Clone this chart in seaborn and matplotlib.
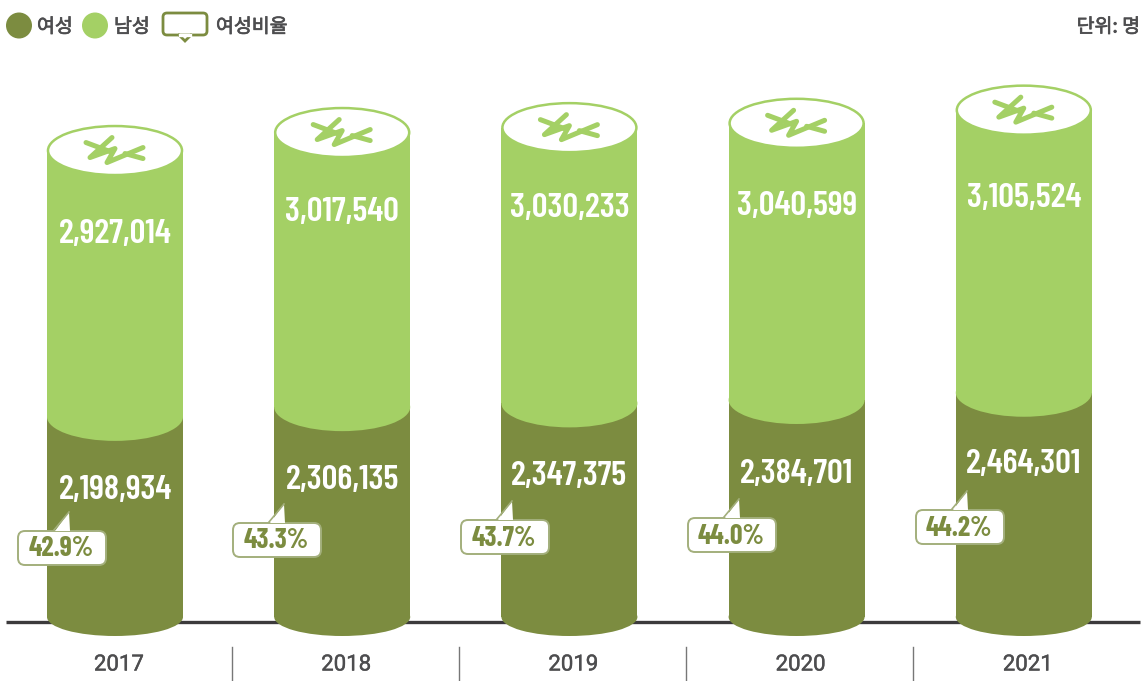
import pandas as pd
import seaborn as sns
import matplotlib
matplotlib.use('Agg')
from matplotlib import pyplot as plt
from matplotlib import patheffects as pe
from matplotlib.patches import Ellipse, FancyBboxPatch, Polygon, Circle
from matplotlib.transforms import Affine2D

years = ['2017', '2018', '2019', '2020', '2021']
female = [2198934, 2306135, 2347375, 2384701, 2464301]
male = [2927014, 3017540, 3030233, 3040599, 3105524]
ratio = ['42.9%', '43.3%', '43.7%', '44.0%', '44.2%']

# 라벨 위치 (px)
male_label_y = [234, 212, 208, 207, 199]
female_label_y = [490, 480, 477, 475, 464]
box_left = [18, 233, 461, 688, 916]
box_mid_y = [548, 540, 537, 535, 527]

DARK = '#7c8c40'
LIGHT = '#a4d065'
GREY = '#4d4d4f'
KR = ['Noto Sans CJK KR', 'DejaVu Sans']
NARROW = ['Barlow Condensed', 'Roboto Condensed', 'DejaVu Sans']

W, H = 1148, 681
X0, STEP = 115, 227.2     # 첫 막대 중심, 간격 (px)
Y0, SCALE = 617, 9.1e-5   # 0 위치 (px), 명당 px
BAR_W = 136

df = pd.DataFrame({'year': years, 'female': female, 'male': male})
df['total'] = df['female'] + df['male']

fig = plt.figure(figsize=(W / 100, H / 100), dpi=100)
ax = fig.add_axes([0, 0, 1, 1])

# px 좌표 (위에서 아래로)
px = Affine2D().scale(1, -1).translate(0, H)

width = BAR_W / STEP
thick = [pe.withStroke(linewidth=0.5, foreground=GREY)]

sns.barplot(data=df, x='year', y='total', color=LIGHT, saturation=1, width=width, ax=ax, zorder=1, lw=0)
sns.barplot(data=df, x='year', y='female', color=DARK, saturation=1, width=width, ax=ax, zorder=2, lw=0)
ax.set_xlim(-X0 / STEP, (W - X0) / STEP)
ax.set_ylim((Y0 - H) / SCALE, Y0 / SCALE)
ax.axis('off')

ax.plot([6, 1140], [622, 622], color='#3c3a3c', lw=2.4, transform=px, zorder=0, solid_capstyle='butt')

# 뚜껑 로고, 뚜껑 중심에서의 px
mark = [[(-29, -8), (-5, 1)],
        [(-3, -13), (-25, 7), (0, -2), (-8, 12), (28, -3)],
        [(10, 3), (28, 8)]]

for i, y in enumerate(years):
    f = df['female'][i]
    t = df['total'][i]
    cx = X0 + i * STEP
    ty = Y0 - t * SCALE
    ax.add_patch(Ellipse((i, 0), width, 38 / SCALE, color=DARK, lw=0, zorder=2))
    ax.add_patch(Ellipse((i, f), width, 48 / SCALE, color=LIGHT, lw=0, zorder=3))
    ax.add_patch(Ellipse((i, t), width - 2 / STEP, 49 / SCALE, facecolor='white', edgecolor=LIGHT, lw=1.8, zorder=4))

    for stroke in mark:
        ax.plot([cx + p[0] for p in stroke], [ty + p[1] for p in stroke], color=LIGHT, lw=3.6, transform=px,
                zorder=5, solid_capstyle='round', solid_joinstyle='round')

    ax.text(cx, male_label_y[i], f'{male[i]:,}', transform=px, color='white', fontsize=25, fontweight='semibold',
            family=NARROW, ha='center', va='center', zorder=6)
    ax.text(cx, female_label_y[i], f'{f:,}', transform=px, color='white', fontsize=25, fontweight='semibold',
            family=NARROW, ha='center', va='center', zorder=6)

    # 말풍선
    bx = box_left[i]
    by = box_mid_y[i]
    ax.add_patch(FancyBboxPatch((bx + 6, by - 11), 76, 22, boxstyle='round,pad=6,rounding_size=7',
                                transform=px, facecolor='white', edgecolor='#a3af7c', lw=1.4, zorder=6))
    ax.add_patch(Polygon([(bx + 37, by - 17), (bx + 51, by - 36), (bx + 52, by - 17)], transform=px,
                         facecolor='white', edgecolor='none', zorder=7))
    ax.plot([bx + 36, bx + 51], [by - 18, by - 36], color='#a3af7c', lw=1.2, transform=px, zorder=7)
    ax.text(bx + 43, by + 1, ratio[i], transform=px, color=DARK, fontsize=20, fontweight='bold',
            family=NARROW, ha='center', va='center', zorder=8)

    ax.text(cx + 4, 665, y, transform=px, color=GREY, fontsize=16, family='Roboto', ha='center', va='center',
            path_effects=[pe.withStroke(linewidth=0.3, foreground=GREY)])
    if i < 4:
        ax.plot([cx + STEP / 2 + 3] * 2, [647, 681], color='#777777', lw=1, transform=px, zorder=0)

# 범례
ax.add_patch(Circle((19, 25.5), 13, transform=px, color=DARK, lw=0))
ax.add_patch(Circle((95, 25.5), 13, transform=px, color=LIGHT, lw=0))
ax.add_patch(FancyBboxPatch((166, 16), 38, 16, boxstyle='round,pad=3,rounding_size=4', transform=px,
                            facecolor='white', edgecolor=DARK, lw=2))
ax.plot([179, 185, 191], [35, 41, 35], color=DARK, lw=2, transform=px, solid_joinstyle='miter', zorder=3)
ax.plot([180, 190], [35, 35], color='white', lw=2.4, transform=px, zorder=3)
for s, x in [('여성', 37), ('남성', 114), ('여성비율', 216)]:
    ax.text(x, 27, s, transform=px, color=GREY, fontsize=14, family=KR, ha='left', va='center', path_effects=thick)
ax.text(1140, 27, '단위: 명', transform=px, color=GREY, fontsize=14, family=KR, ha='right', va='center', path_effects=thick)

plt.savefig('out.png', dpi=100)
